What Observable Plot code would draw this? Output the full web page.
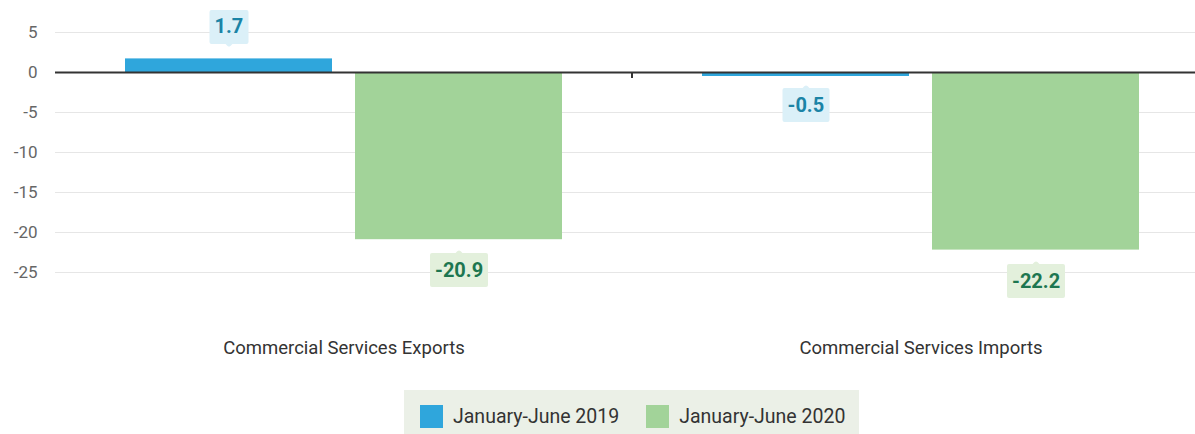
<!DOCTYPE html>
<html>
<head>
<meta charset="utf-8">
<script src="https://cdn.jsdelivr.net/npm/d3@7"></script>
<script src="https://cdn.jsdelivr.net/npm/@observablehq/plot@0.6"></script>
<style>
  html, body { margin: 0; padding: 0; background: #fff; width: 1195px; height: 434px; overflow: hidden; }
  body { font-family: Roboto, "Open Sans", sans-serif; }
  #chart svg { display: block; overflow: visible; }
  g[aria-description="tip-blue"] text { fill: #1b84a6 !important; font-weight: bold; }
  g[aria-description="tip-green"] text { fill: #1d7650 !important; font-weight: bold; }
  .legend { position: absolute; left: 404px; top: 390px; width: 455px; height: 60px; background: #ebf0e7; box-sizing: border-box; padding: 15px 0 0 16px; display: flex; }
  .legend .item { display: flex; align-items: center; margin-right: 27px; font-size: 19.5px; color: #333; height: 23px; white-space: nowrap; }
  .legend .sw { width: 23px; height: 23px; margin-right: 10px; }
</style>
</head>
<body>
<div id="chart"></div>
<div class="legend" id="legend"></div>
<script>
const categories = ["Commercial Services Exports", "Commercial Services Imports"];
const seriesNames = ["January-June 2019", "January-June 2020"];
const values2019 = [1.7, -0.5];
const values2020 = [-20.9, -22.2];
const yTicks = [5, 0, -5, -10, -15, -20, -25];
const seriesColors = ["#2fa6dc", "#a2d399"];
const labelBg = ["#dbf0f8", "#e3f0dc"];

const rows = [];
categories.forEach((c, i) => {
  rows.push({category: c, series: seriesNames[0], value: values2019[i]});
  rows.push({category: c, series: seriesNames[1], value: values2020[i]});
});

const tipCommon = {
  fx: "category", x: "series", y: "value",
  title: d => d.value.toFixed(1),
  pathFilter: "none", strokeWidth: 4, strokeLinejoin: "round",
  fontSize: 20, fontWeight: "bold", textPadding: 3, pointerSize: 5, lineHeight: 1
};

const boundaryTick = Plot.frame({
  facet: "super",
  render(index, scales, values, dimensions, context) {
    const g = d3.create("svg:g");
    if (scales.fx && scales.y) {
      const x = scales.fx(categories[1]);
      const y = scales.y(0);
      g.append("line").attr("x1", x).attr("x2", x).attr("y1", y).attr("y2", y + 6)
        .attr("stroke", "#333").attr("stroke-width", 2);
    }
    return g.node();
  }
});

const chart = Plot.plot({
  width: 1195,
  height: 372,
  marginLeft: 55,
  marginRight: 0,
  marginTop: 32,
  marginBottom: 60,
  style: {fontFamily: "Roboto, sans-serif", background: "transparent"},
  fx: {domain: categories, range: [55, 1209], padding: 0, label: null},
  x: {domain: seriesNames, paddingInner: 0.1, paddingOuter: 0.3, axis: null},
  y: {domain: [-30, 5], label: null},
  color: {domain: seriesNames, range: seriesColors},
  marks: [
    Plot.ruleY(yTicks, {stroke: "#e6e6e6", strokeWidth: 1}),
    Plot.axisY({ticks: yTicks, tickSize: 0, tickPadding: 18, fontSize: 17, color: "#666", tickFormat: d => String(d), label: null}),
    Plot.axisFx({anchor: "bottom", tickSize: 0, tickPadding: 28, fontSize: 18.5, color: "#333", label: null}),
    Plot.barY(rows, {fx: "category", x: "series", y: "value", fill: "series"}),
    Plot.ruleY([0], {stroke: "#333", strokeWidth: 2}),
    boundaryTick,
    Plot.tip(rows.filter(d => d.series === seriesNames[0] && d.value >= 0),
      {...tipCommon, anchor: "bottom", dy: -14, fill: labelBg[0], stroke: labelBg[0], ariaDescription: "tip-blue"}),
    Plot.tip(rows.filter(d => d.series === seriesNames[0] && d.value < 0),
      {...tipCommon, anchor: "top", dy: 11, fill: labelBg[0], stroke: labelBg[0], ariaDescription: "tip-blue"}),
    Plot.tip(rows.filter(d => d.series === seriesNames[1] && d.value < 0),
      {...tipCommon, anchor: "top", dy: 13, fill: labelBg[1], stroke: labelBg[1], ariaDescription: "tip-green"})
  ]
});
document.getElementById("chart").appendChild(chart);

const legend = document.getElementById("legend");
seriesNames.forEach((name, i) => {
  const item = document.createElement("div");
  item.className = "item";
  const sw = document.createElement("span");
  sw.className = "sw";
  sw.style.background = seriesColors[i];
  item.appendChild(sw);
  item.appendChild(document.createTextNode(name));
  legend.appendChild(item);
});
</script>
</body>
</html>
